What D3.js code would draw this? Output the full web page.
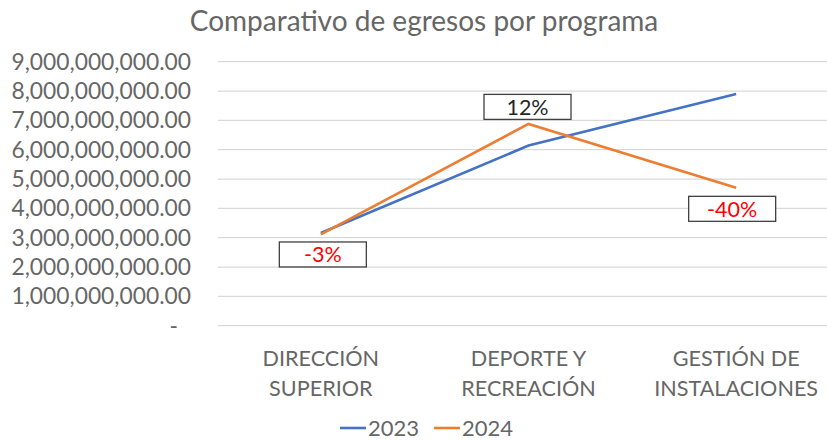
<!DOCTYPE html>
<html>
<head>
<meta charset="utf-8">
<script src="https://cdn.jsdelivr.net/npm/d3@7"></script>
<style>
  body { margin: 0; background: #fff; }
  text { font-family: Lato, "Open Sans", sans-serif; }
</style>
</head>
<body>
<script>
let width = 827,
  height = 440;

// data
const categories = [["DIRECCIÓN", "SUPERIOR"], ["DEPORTE Y", "RECREACIÓN"], ["GESTIÓN DE", "INSTALACIONES"]];
const years = ["2023", "2024"];
const values2023 = [3160000000, 6140000000, 7900000000];
const values2024 = [3110000000, 6880000000, 4700000000];
const changeLabels = ["-3%", "12%", "-40%"];
const yTicks = [0, 1e9, 2e9, 3e9, 4e9, 5e9, 6e9, 7e9, 8e9, 9e9];

let colors = ["#4472C4", "#ED7D31"];
let grey = "#666666";

let svg = d3.select("body").append("svg")
  .attr("width", width)
  .attr("height", height);

let x = d3.scalePoint()
  .domain(d3.range(categories.length))
  .range([217, 840])
  .padding(0.5);

let y = d3.scaleLinear()
  .domain([0, 9e9])
  .range([325.7, 61.7]);

let fmt = d3.format(",.2f");

// title
svg.append("text")
  .attr("x", 424)
  .attr("y", 31)
  .attr("text-anchor", "middle")
  .style("font-size", "28px")
  .style("fill", grey)
  .text("Comparativo de egresos por programa");

// gridlines
svg.append("g")
  .selectAll("line")
  .data(yTicks)
  .enter().append("line")
  .attr("x1", 218).attr("x2", width)
  .attr("y1", d => y(d)).attr("y2", d => y(d))
  .style("stroke", "#d9d9d9")
  .style("stroke-width", 1.2);

// y axis labels
svg.append("g")
  .selectAll("text")
  .data(yTicks)
  .enter().append("text")
  .attr("x", d => d === 0 ? 178 : 191)
  .attr("y", d => y(d))
  .attr("dy", "0.35em")
  .attr("text-anchor", "end")
  .style("font-size", "22.8px")
  .style("fill", grey)
  .text(d => d === 0 ? "-" : fmt(d));

// category labels
let cat = svg.append("g")
  .selectAll("text")
  .data(categories)
  .enter().append("text")
  .attr("text-anchor", "middle")
  .style("font-size", "21.6px")
  .style("fill", grey);

cat.selectAll("tspan")
  .data((d, i) => d.map(t => ({ t, i })))
  .enter().append("tspan")
  .attr("x", d => x(d.i))
  .attr("y", (d, j) => 366 + j * 30)
  .text(d => d.t);

// lines
let line = d3.line()
  .x((d, i) => x(i))
  .y(d => y(d));

[values2023, values2024].forEach(function(vals, k) {
  svg.append("path")
    .datum(vals)
    .attr("d", line)
    .style("fill", "none")
    .style("stroke", colors[k])
    .style("stroke-width", 2.6);
});

// change labels, boxed
const boxOffsets = [20, -17, 21];
let lab = svg.append("g")
  .selectAll("g")
  .data(changeLabels)
  .enter().append("g")
  .attr("transform", (d, i) => "translate(" + (x(i) + [2, -1, -4][i]) + "," + (y(values2024[i]) + boxOffsets[i]) + ")");

lab.append("rect")
  .attr("x", -43.5).attr("y", -12.5)
  .attr("width", 87).attr("height", 25)
  .style("fill", "#fff")
  .style("stroke", "#404040")
  .style("stroke-width", 1.3);

lab.append("text")
  .attr("text-anchor", "middle")
  .attr("dy", "0.36em")
  .style("font-size", "21.5px")
  .style("fill", d => d.charAt(0) === "-" ? "#FF0000" : "#262626")
  .text(d => d);

// legend
let legend = svg.append("g")
  .selectAll("g")
  .data(years)
  .enter().append("g")
  .attr("transform", (d, i) => "translate(" + (340 + i * 94) + ",428)");

legend.append("line")
  .attr("x1", 0).attr("x2", 26)
  .style("stroke", (d, i) => colors[i])
  .style("stroke-width", 2.6);

legend.append("text")
  .attr("x", 28)
  .attr("dy", "0.35em")
  .style("font-size", "22px")
  .style("fill", grey)
  .text(d => d);
</script>
</body>
</html>
